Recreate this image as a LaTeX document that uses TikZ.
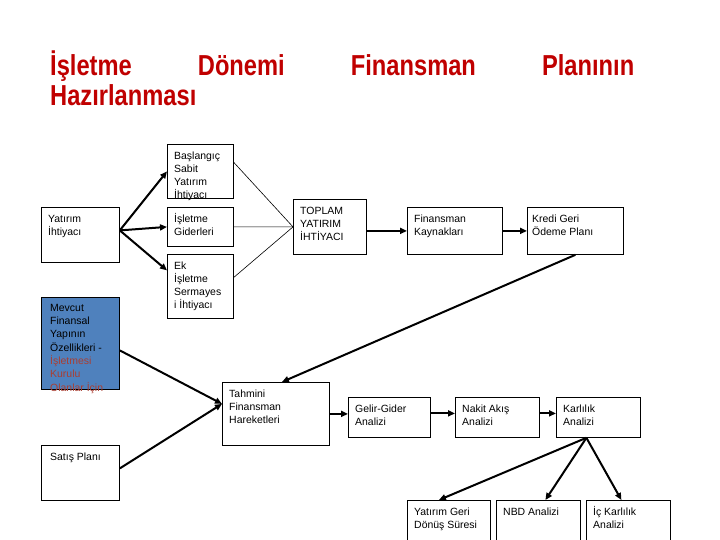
\documentclass[tikz,border=0pt]{standalone}
\usepackage{fontspec}
\setmainfont{Liberation Sans}
\newfontfamily\titlefont[FakeStretch=0.82]{Liberation Sans}
\usetikzlibrary{arrows.meta}
\definecolor{titlered}{RGB}{192,0,0}
\definecolor{boxblue}{RGB}{79,129,189}
\definecolor{notered}{RGB}{170,62,50}
\newcommand\bxs{\rule{0pt}{11.5bp}}
\begin{document}
\begin{tikzpicture}[x=1bp,y=-1bp,
  box/.style={draw=black, line width=0.8bp, anchor=north west, inner sep=0pt},
  txt/.style={anchor=north west, align=left, inner sep=0pt, xshift=7bp, yshift=-3.5bp,
    font=\fontsize{10.5}{13.2}\selectfont},
  arr/.style={line width=2bp, -{Triangle[length=7bp,width=6bp]}},
  thinl/.style={line width=0.6bp},
  ttl/.style={anchor=base west, inner sep=0pt, text=titlered, font=\titlefont\bfseries\fontsize{29}{30}\selectfont}]
\fill[white] (0,0) rectangle (720,540);
\useasboundingbox (0,0) rectangle (720,540);

\node[ttl] (t1) at (50,76) {\makebox[584bp][s]{İşletme Dönemi Finansman Planının}};
\node[ttl] (t2) at (50,106) {Hazırlanması};

\node[box, minimum width=78bp, minimum height=55bp, label={[txt]north west:{\bxs Yatırım\\İhtiyacı}}] (yi) at (41,207) {};
\node[box, minimum width=66bp, minimum height=54bp, label={[txt]north west:{\bxs Başlangıç\\Sabit\\Yatırım\\İhtiyacı}}] (bsy) at (167,144) {};
\node[box, minimum width=66bp, minimum height=39bp, label={[txt]north west:{\bxs İşletme\\Giderleri}}] (ig) at (167,207) {};
\node[box, minimum width=66bp, minimum height=64bp, label={[txt]north west:{\bxs Ek\\İşletme\\Sermayes\\i İhtiyacı}}] (ek) at (167,254) {};
\node[box, minimum width=73bp, minimum height=55bp, label={[txt]north west:{\bxs TOPLAM\\YATIRIM\\İHTİYACI}}] (top) at (293,199) {};
\node[box, minimum width=95bp, minimum height=47bp, label={[txt]north west:{\bxs Finansman\\Kaynakları}}] (fk) at (407,207) {};
\node[box, minimum width=96bp, minimum height=47bp, label={[txt, xshift=-2bp]north west:{\bxs Kredi Geri\\Ödeme Planı}}] (kgo) at (527,207) {};
\node[box, fill=boxblue, minimum width=78bp, minimum height=92bp, label={[txt, xshift=2bp, yshift=1bp, font=\fontsize{10.5}{13.4}\selectfont]north west:{\bxs Mevcut\\Finansal\\Yapının\\Özellikleri -\\\textcolor{notered}{İşletmesi}\\\textcolor{notered}{Kurulu}\\\textcolor{notered}{Olanlar İçin}}}] (mev) at (41,297) {};
\node[box, minimum width=107bp, minimum height=63bp, label={[txt]north west:{\bxs Tahmini\\Finansman\\Hareketleri}}] (tfh) at (222,382) {};
\node[box, minimum width=82bp, minimum height=40bp, label={[txt]north west:{\bxs Gelir-Gider\\Analizi}}] (gga) at (348,397) {};
\node[box, minimum width=84bp, minimum height=40bp, label={[txt]north west:{\bxs Nakit Akış\\Analizi}}] (naa) at (455,397) {};
\node[box, minimum width=84bp, minimum height=40bp, label={[txt]north west:{\bxs Karlılık\\Analizi}}] (ka) at (556,397) {};
\node[box, minimum width=78bp, minimum height=55bp, label={[txt, xshift=2bp]north west:{\bxs Satış Planı}}] (sp) at (41,445) {};
\node[box, minimum width=83bp, minimum height=50bp, label={[txt]north west:{\bxs Yatırım Geri\\Dönüş Süresi}}] (ygd) at (407,500) {};
\node[box, minimum width=84bp, minimum height=50bp, label={[txt]north west:{\bxs NBD Analizi}}] (nbd) at (496,500) {};
\node[box, minimum width=84bp, minimum height=50bp, label={[txt]north west:{\bxs İç Karlılık\\Analizi}}] (ick) at (586,500) {};

\draw[arr] ([yshift=4.5bp]yi.east) -- (bsy.west);
\draw[arr] ([yshift=4.5bp]yi.east) -- (ig.west);
\draw[arr] ([yshift=4.5bp]yi.east) -- ([yshift=16bp]ek.west);
\draw[thinl] ([yshift=9bp]bsy.east) -- (top.west);
\draw[thinl] (ig.east) -- (top.west);
\draw[thinl] ([yshift=9bp]ek.east) -- (top.west);
\draw[arr] (top.east |- fk.west) -- (fk.west);
\draw[arr] (fk.east) -- (kgo.west);
\draw[arr] (kgo.south) -- ([xshift=6bp]tfh.north);
\draw[arr] ([yshift=-7bp]mev.east) -- ([yshift=10bp]tfh.west);
\draw[arr] ([yshift=4.5bp]sp.east) -- ([yshift=10bp]tfh.west);
\draw[arr] (tfh.east) -- (tfh.east -| gga.west);
\draw[arr] ([yshift=4bp]gga.east) -- ([yshift=4bp]naa.west);
\draw[arr] ([yshift=4bp]naa.east) -- ([yshift=4bp]ka.west);
\draw[arr] ([xshift=-12bp]ka.south) -- ([xshift=-10bp]ygd.north);
\draw[arr] ([xshift=-12bp]ka.south) -- ([xshift=7bp]nbd.north);
\draw[arr] ([xshift=-12bp]ka.south) -- ([xshift=-7bp]ick.north);
\end{tikzpicture}
\end{document}
